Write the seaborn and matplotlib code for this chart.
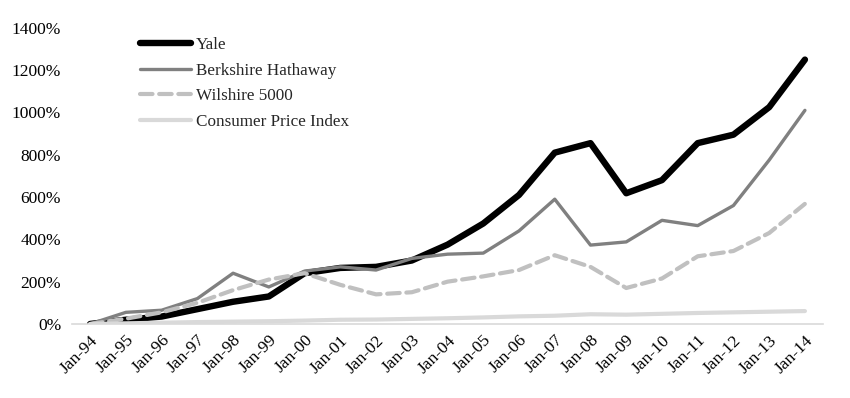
import numpy as np
import pandas as pd
import matplotlib
matplotlib.use("Agg")
import matplotlib.pyplot as plt
import seaborn as sns
from matplotlib.ticker import FuncFormatter

sns.set_theme(style="white")
plt.rcParams['font.family'] = ['Liberation Serif', 'DejaVu Serif']

# Cumulative returns since Jan-94, in percent
dates = ["Jan-94", "Jan-95", "Jan-96", "Jan-97", "Jan-98", "Jan-99", "Jan-00",
         "Jan-01", "Jan-02", "Jan-03", "Jan-04", "Jan-05", "Jan-06", "Jan-07",
         "Jan-08", "Jan-09", "Jan-10", "Jan-11", "Jan-12", "Jan-13", "Jan-14"]
yale = [0, 20, 35, 70, 105, 130, 240, 265, 270, 300, 375, 475, 610, 810,
        855, 618, 680, 855, 895, 1025, 1250]
berkshire = [0, 55, 65, 120, 240, 175, 250, 270, 255, 310, 330, 335, 440, 590,
             373, 388, 490, 465, 560, 775, 1010]
wilshire = [0, 25, 55, 100, 160, 210, 240, 185, 140, 150, 200, 225, 255, 325,
            270, 170, 215, 320, 345, 430, 568]
cpi = [0, 3, 6, 9, 11, 13, 16, 20, 21, 24, 27, 31, 36, 39, 46, 44, 48, 52,
       55, 58, 61]

series = [
    ("Yale", yale, "#000000", 4.6, None),
    ("Berkshire Hathaway", berkshire, "#808080", 2.4, None),
    ("Wilshire 5000", wilshire, "#c0c0c0", 3.0, (3, 1.6)),
    ("Consumer Price Index", cpi, "#d9d9d9", 3.0, None),
]

fig, ax = plt.subplots(figsize=(8.5, 3.98), dpi=100)
fig.subplots_adjust(left=0.085, right=0.968, top=0.93, bottom=0.186)

x = np.arange(len(dates))
for name, vals, color, lw, dash in series:
    sns.lineplot(x=x, y=vals, color=color, linewidth=lw, label=name, ax=ax)
    ln = ax.lines[-1]
    ln.set_solid_capstyle("round")
    ln.set_dash_capstyle("round")
    if dash:
        ln.set_dashes(dash)

ax.set_xlim(-0.5, len(dates) - 0.5)
ax.set_ylim(0, 1400)
ax.set_yticks(range(0, 1401, 200))
ax.yaxis.set_major_formatter(FuncFormatter(lambda v, p: f"{int(v)}%"))
ax.set_xticks(x)
ax.set_xticklabels(dates, rotation=45, ha="right", rotation_mode="anchor")
ax.tick_params(axis="both", labelsize=12.5, length=0, colors="black")
ax.tick_params(axis="x", pad=6)
ax.tick_params(axis="y", pad=8)

for s in ["top", "right", "left"]:
    ax.spines[s].set_visible(False)
ax.spines["bottom"].set_color("#d9d9d9")
ax.spines["bottom"].set_linewidth(1.2)

ax.legend(loc="upper left", bbox_to_anchor=(0.07, 1.02), frameon=False,
          fontsize=12.3, handlelength=3.0, handletextpad=0.25, labelspacing=0.55)

fig.savefig("out.png", dpi=100)
